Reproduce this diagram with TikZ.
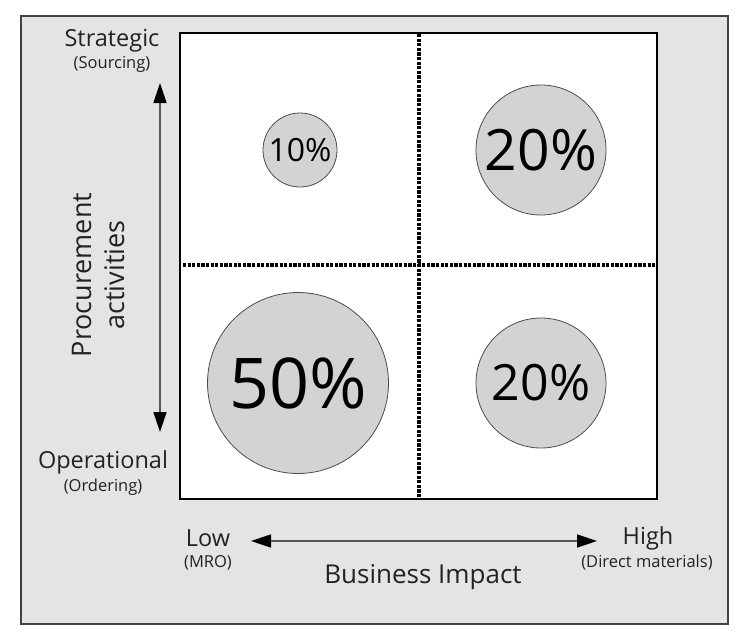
\documentclass[tikz,border=0pt]{standalone}
\usepackage{fontspec}
\setmainfont{Open Sans}
\usetikzlibrary{arrows.meta}
\definecolor{bggray}{HTML}{E4E4E4}
\definecolor{circfill}{HTML}{D3D3D3}
\definecolor{framegray}{HTML}{404040}
\definecolor{txt}{HTML}{222222}
\definecolor{axisgray}{HTML}{555555}
\tikzset{
  frame/.style={draw=framegray, fill=bggray, line width=1.3pt},
  matrixbox/.style={draw=black, fill=white, line width=1.3pt},
  divider/.style={draw=black, line width=3.2pt, dash pattern=on 3.2pt off 1.4pt},
  bubble/.style={circle, draw=black!70, fill=circfill, line width=0.8pt, inner sep=0pt, text=black},
  axisarrow/.style={draw=axisgray, line width=1.6pt, {Triangle[length=20pt,width=13pt,fill=black,color=black]}-{Triangle[length=20pt,width=13pt,fill=black,color=black]}},
  lbl/.style={text=txt, inner sep=0pt, align=center, font=\fontsize{23.5}{26}\selectfont},
  sublbl/.style={text=txt, inner sep=0pt, align=center, font=\fontsize{16.5}{18}\selectfont},
}
\begin{document}
\begin{tikzpicture}[x=1pt,y=-1pt]
\useasboundingbox (0,0) rectangle (740,638);
\path[frame] (21,16) rectangle (728,624);
\path[matrixbox] (180,33) rectangle (657,499);
% dividers
\coordinate (vtop) at (419,34);
\coordinate (vbot) at (419,498);
\coordinate (hleft) at (183,265);
\coordinate (hright) at (656,265);
\draw[divider] (vtop) -- (vbot);
\draw[divider] (hleft) -- (hright);
% bubbles
\node[bubble, minimum size=74pt, font=\fontsize{32}{32}\selectfont] (c10) at (300,150) {10\%};
\node[bubble, minimum size=130pt, font=\fontsize{57}{57}\selectfont] (c20a) at (541,150) {20\%};
\node[bubble, minimum size=181pt, font=\fontsize{70}{70}\selectfont] (c50) at (298,383) {50\%};
\node[bubble, minimum size=130pt, font=\fontsize{50}{50}\selectfont] (c20b) at (541,383) {20\%};
% vertical axis
\node[lbl] (strat) at (112,41) {Strategic};
\node[sublbl] (sourcing) at (112,64) {(Sourcing)};
\node[lbl] (oper) at (103,462) {Operational};
\node[sublbl] (ordering) at (103,487) {(Ordering)};
\coordinate (vaxtop) at (160,83);
\coordinate (vaxbot) at (160,432);
\draw[axisarrow] (vaxbot) -- (vaxtop);
\node[lbl, rotate=90, font=\fontsize{27}{33}\selectfont] (proc) at (98,275) {Procurement\\activities};
% horizontal axis
\node[lbl] (low) at (208,538) {Low};
\node[sublbl] (mro) at (208,563) {(MRO)};
\node[lbl] (high) at (648,538) {High};
\node[sublbl] (direct) at (647,563) {(Direct materials)};
\coordinate (haxl) at (251,541);
\coordinate (haxr) at (597,541);
\draw[axisarrow] (haxl) -- (haxr);
\node[lbl, font=\fontsize{26}{28}\selectfont] (bi) at (423,577) {Business Impact};
\end{tikzpicture}
\end{document}
